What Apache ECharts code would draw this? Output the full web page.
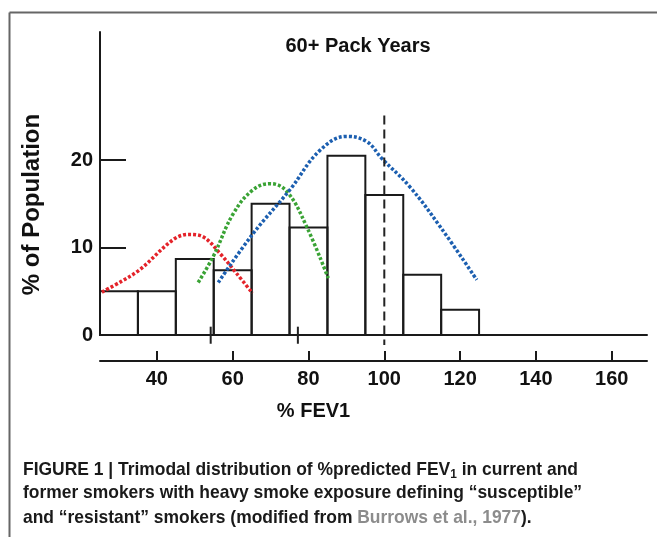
<!DOCTYPE html>
<html>
<head>
<meta charset="utf-8">
<script src="https://cdn.jsdelivr.net/npm/echarts@6/dist/echarts.min.js"></script>
<style>
html,body{margin:0;padding:0;background:#fff;}
#chart{width:657px;height:537px;}
</style>
</head>
<body>
<div id="chart"></div>
<script>
// ---- data ----
const titleText = '60+ Pack Years';
const binStarts = [25, 35, 45, 55, 65, 75, 85, 95, 105, 115];
const binWidth = 10;
const binHeights = [5.0, 5.0, 8.7, 7.4, 15.0, 12.3, 20.5, 16.0, 6.9, 2.9];
const yTickValues = [0, 10, 20];
const xTickValues = [40, 60, 80, 100, 120, 140, 160];
const susceptibleCurve = [[25.5,4.9],[30.5,6.1],[35.6,7.5],[44.3,10.9],[48.3,11.5],[52.3,11.2],[56.7,9.3],[61.1,7.0],[65.2,4.8]];
const intermediateCurve = [[50.9,6.0],[54.9,9.0],[60.2,13.9],[65.4,16.6],[69.9,17.3],[74.3,16.4],[79.5,12.4],[85.2,6.5]];
const resistantCurve = [[56.2,6.0],[65.4,11.6],[75.1,16.6],[83.0,21.1],[90.1,22.7],[95.4,22.1],[99.3,20.2],[106.8,16.9],[114.7,12.4],[124.4,6.3]];
const referenceLine = [[100, 25.1], [100, -1.15]];
const baselineMarks = [54.2, 77.2];
const yName = '% of Population';
const xName = '% FEV1';
const captionLines = [
  ['FIGURE 1 | Trimodal distribution of %predicted FEV', '1', ' in current and'],
  ['former smokers with heavy smoke exposure defining \u201csusceptible\u201d'],
  ['and \u201cresistant\u201d smokers (modified from ', 'Burrows et al., 1977', ').']
];

// ---- chart ----
const chart = echarts.init(document.getElementById('chart'), null, {renderer: 'canvas'});
const AX = "'Liberation Sans', Arial, sans-serif";
const X_MIN = 25, X_MAX = 169.3, Y_MAX = 34.63;
const CAP_SIZE = 19, CAP_WIDTH = 558;

// horizontal condensing factor for the caption (reference uses a condensed face)
const mctx = document.createElement('canvas').getContext('2d');
mctx.font = 'bold ' + CAP_SIZE + 'px "Liberation Sans"';
const capScale = CAP_WIDTH / mctx.measureText(captionLines[0].join('')).width;

const dotted = (c) => ({color: c, width: 3.5, type: [3, 2], cap: 'butt'});

const series = [
  {
    type: 'custom',
    xAxisIndex: 0, yAxisIndex: 0,
    data: binStarts.map((s, i) => [s, binHeights[i]]),
    renderItem: function (params, api) {
      const x0 = api.value(0), h = api.value(1);
      const p0 = api.coord([x0, h]);
      const p1 = api.coord([x0 + binWidth, 0]);
      return {
        type: 'rect',
        shape: {x: p0[0], y: p0[1], width: p1[0] - p0[0], height: p1[1] - p0[1]},
        style: {fill: 'rgba(0,0,0,0)', stroke: '#1a1a1a', lineWidth: 2}
      };
    },
    z: 2
  },
  {type: 'line', data: susceptibleCurve, smooth: 0.35, symbol: 'none', lineStyle: dotted('#e4232a'), z: 3},
  {type: 'line', data: intermediateCurve, smooth: 0.4, symbol: 'none', lineStyle: dotted('#3aa335'), z: 3},
  {type: 'line', data: resistantCurve, smooth: 0.4, symbol: 'none', lineStyle: dotted('#1c5fb0'), z: 3},
  {type: 'line', data: referenceLine, symbol: 'none', clip: false,
   lineStyle: {color: '#222', width: 2, type: [9, 5]}, z: 4}
].concat(baselineMarks.map(v => ({
  type: 'line', data: [[v, 0.95], [v, -1.0]], symbol: 'none', clip: false,
  lineStyle: {color: '#222', width: 2}, z: 4
})));

function captionGraphic(parts, idx) {
  const rich = {
    n: {fontFamily: AX, fontWeight: 'bold', fontSize: CAP_SIZE, fill: '#1a1a1a'},
    sub: {fontFamily: AX, fontWeight: 'bold', fontSize: 13, fill: '#1a1a1a', padding: [9, 0, 0, 0]},
    g: {fontFamily: AX, fontWeight: 'bold', fontSize: CAP_SIZE, fill: '#8c8c8c'}
  };
  let text;
  if (idx === 0) text = '{n|' + parts[0] + '}{sub|' + parts[1] + '}{n|' + parts[2] + '}';
  else if (idx === 2) text = '{n|' + parts[0] + '}{g|' + parts[1] + '}{n|' + parts[2] + '}';
  else text = '{n|' + parts[0] + '}';
  return {
    type: 'text', x: 23, y: 459 + idx * 24.5, scaleX: capScale,
    style: {text: text, rich: rich, x: 0, y: 0, verticalAlign: 'top',
            fontFamily: AX, fontWeight: 'bold', fontSize: CAP_SIZE, fill: '#1a1a1a'}
  };
}

chart.setOption({
  backgroundColor: '#fff',
  animation: false,
  title: {
    text: titleText, left: 353, top: 31, textAlign: 'center',
    textStyle: {fontFamily: AX, fontWeight: 'bold', fontSize: 20, color: '#111'}
  },
  grid: {left: 100, top: 32, width: 547, height: 303, containLabel: false},
  xAxis: [
    {
      type: 'value', min: X_MIN, max: X_MAX, position: 'bottom',
      axisLine: {show: true, onZero: false, lineStyle: {color: '#1a1a1a', width: 2}},
      axisTick: {show: false}, axisLabel: {show: false}, splitLine: {show: false}
    },
    {
      type: 'value', min: X_MIN, max: X_MAX, position: 'bottom', offset: 26,
      axisLine: {show: true, onZero: false, lineStyle: {color: '#1a1a1a', width: 2}},
      axisTick: {show: true, inside: true, length: 10, customValues: xTickValues, lineStyle: {color: '#1a1a1a', width: 2}},
      axisLabel: {show: true, customValues: xTickValues, margin: 8, fontFamily: AX, fontWeight: 'bold', fontSize: 20, color: '#111'},
      splitLine: {show: false},
      name: xName, nameLocation: 'middle', nameGap: 40,
      nameTextStyle: {fontFamily: AX, fontWeight: 'bold', fontSize: 20, color: '#111', padding: [0, 120, 0, 0]}
    }
  ],
  yAxis: {
    type: 'value', min: 0, max: Y_MAX,
    axisLine: {show: true, lineStyle: {color: '#1a1a1a', width: 2}},
    axisTick: {show: true, inside: true, length: 26, customValues: [10, 20], lineStyle: {color: '#1a1a1a', width: 2}},
    axisLabel: {show: true, customValues: yTickValues, margin: 7, fontFamily: AX, fontWeight: 'bold', fontSize: 20, color: '#111'},
    splitLine: {show: false},
    name: yName, nameLocation: 'middle', nameGap: 56,
    nameTextStyle: {fontFamily: AX, fontWeight: 'bold', fontSize: 24, color: '#111', padding: [0, 42, 0, 0]}
  },
  series: series,
  graphic: [
    {type: 'line', shape: {x1: 9.5, y1: 12.5, x2: 9.5, y2: 537}, style: {stroke: '#666', lineWidth: 2}},
    {type: 'line', shape: {x1: 9.5, y1: 12.5, x2: 657, y2: 12.5}, style: {stroke: '#666', lineWidth: 2}}
  ].concat(captionLines.map(captionGraphic))
});
</script>
</body>
</html>
